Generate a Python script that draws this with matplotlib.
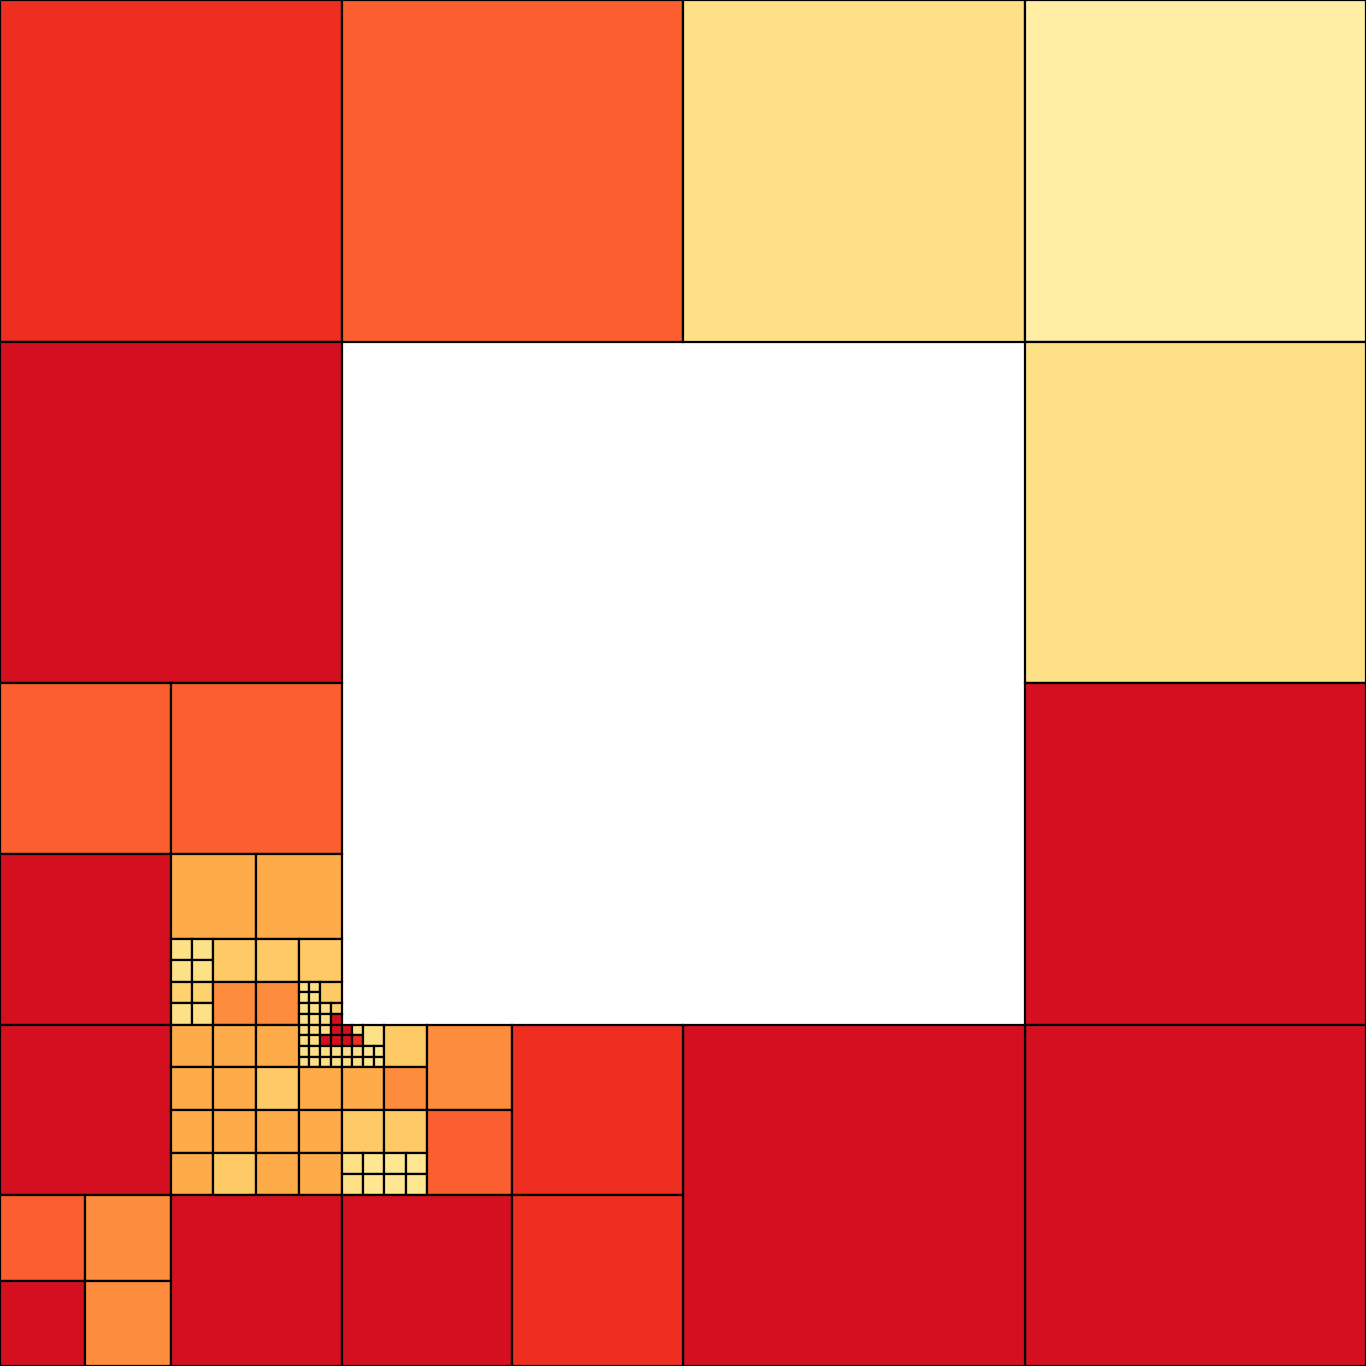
import numpy as np
import matplotlib
matplotlib.use("Agg")
import matplotlib.pyplot as plt
from matplotlib.patches import Rectangle

# quadtree mesh on a 128 x 128 grid (rows counted from the top)
# each cell: column, row, size, value (value is mapped through YlOrRd)
col = [0, 32, 64, 96,
       0, 96, 96, 96, 64,
       0, 16, 0,
       16, 24,
       16, 18, 16, 18,
       20, 24, 28,
       16, 18, 16, 18,
       20, 24,
       28, 29, 28, 29, 30,
       28, 29, 30, 31,
       28, 29, 30, 31,
       28, 29, 30, 31, 32, 33,
       28, 29, 30, 31, 32, 33,
       34,
       28, 29, 30, 31, 32, 33, 34, 35,
       28, 29, 30, 31, 32, 33, 34, 35,
       36,
       0,
       16, 20, 24,
       16, 20, 24, 28, 32, 36,
       16, 20, 24, 28, 32, 36,
       16, 20, 24, 28,
       32, 34, 36, 38, 32, 34, 36, 38,
       40, 40, 48,
       0, 8, 0, 8,
       16, 32, 48]
row = [0, 0, 0, 0,
       32, 32, 64, 96, 96,
       64, 64, 80,
       80, 80,
       88, 88, 90, 90,
       88, 88, 88,
       92, 92, 94, 94,
       92, 92,
       92, 92, 93, 93, 92,
       94, 94, 94, 94,
       95, 95, 95, 95,
       96, 96, 96, 96, 96, 96,
       97, 97, 97, 97, 97, 97,
       96,
       98, 98, 98, 98, 98, 98, 98, 98,
       99, 99, 99, 99, 99, 99, 99, 99,
       96,
       96,
       96, 96, 96,
       100, 100, 100, 100, 100, 100,
       104, 104, 104, 104, 104, 104,
       108, 108, 108, 108,
       108, 108, 108, 108, 110, 110, 110, 110,
       96, 104, 96,
       112, 112, 120, 120,
       112, 112, 112]
size = [32, 32, 32, 32,
        32, 32, 32, 32, 32,
        16, 16, 16,
        8, 8,
        2, 2, 2, 2,
        4, 4, 4,
        2, 2, 2, 2,
        4, 4,
        1, 1, 1, 1, 2,
        1, 1, 1, 1,
        1, 1, 1, 1,
        1, 1, 1, 1, 1, 1,
        1, 1, 1, 1, 1, 1,
        2,
        1, 1, 1, 1, 1, 1, 1, 1,
        1, 1, 1, 1, 1, 1, 1, 1,
        4,
        16,
        4, 4, 4,
        4, 4, 4, 4, 4, 4,
        4, 4, 4, 4, 4, 4,
        4, 4, 4, 4,
        2, 2, 2, 2, 2, 2, 2, 2,
        8, 8, 16,
        8, 8, 8, 8,
        16, 16, 16]
value = [0.70, 0.59, 0.20, 0.12,
         0.80, 0.20, 0.80, 0.80, 0.80,
         0.59, 0.59, 0.80,
         0.40, 0.40,
         0.20, 0.20, 0.20, 0.20,
         0.30, 0.30, 0.30,
         0.27, 0.27, 0.20, 0.20,
         0.50, 0.50,
         0.20, 0.20, 0.20, 0.20, 0.30,
         0.20, 0.20, 0.20, 0.27,
         0.20, 0.20, 0.20, 0.80,
         0.22, 0.22, 0.22, 0.80, 0.80, 0.20,
         0.22, 0.22, 0.80, 0.80, 0.80, 0.70,
         0.20,
         0.20, 0.20, 0.20, 0.20, 0.20, 0.20, 0.17, 0.17,
         0.20, 0.20, 0.20, 0.20, 0.20, 0.20, 0.17, 0.17,
         0.30,
         0.80,
         0.40, 0.40, 0.40,
         0.40, 0.40, 0.30, 0.40, 0.40, 0.50,
         0.40, 0.40, 0.40, 0.40, 0.30, 0.30,
         0.40, 0.30, 0.40, 0.40,
         0.20, 0.17, 0.17, 0.17, 0.20, 0.17, 0.17, 0.17,
         0.50, 0.59, 0.70,
         0.59, 0.50, 0.80, 0.50,
         0.80, 0.80, 0.70]

cmap = plt.get_cmap("YlOrRd")

fig = plt.figure(figsize=(13.66, 13.66), dpi=100)
ax = fig.add_axes([0, 0, 1, 1])

for c, r, s, v in zip(col, row, size, value):
    ax.add_patch(Rectangle((c, r), s, s, facecolor=cmap(v),
                           edgecolor="black", linewidth=1.6))

ax.set_xlim(0, 128)
ax.set_ylim(128, 0)
ax.set_aspect("equal")
ax.axis("off")

fig.savefig("out.png", dpi=100, facecolor="white")
